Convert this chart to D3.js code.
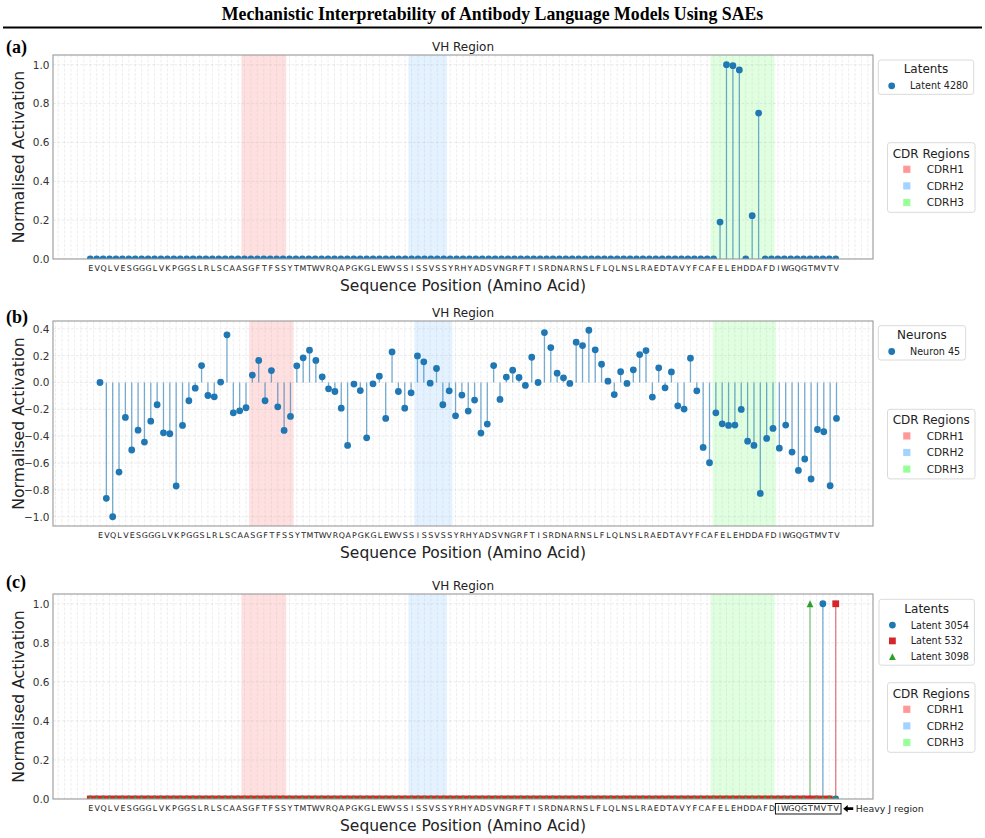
<!DOCTYPE html>
<html><head><meta charset="utf-8">
<script src="https://cdn.jsdelivr.net/npm/d3@7"></script>
<style>body{margin:0;background:#fff} svg{display:block}</style>
</head><body>
<svg id="chart" width="985" height="838"></svg>
<script>
// ---------------- DATA ----------------
const figureTitle = "Mechanistic Interpretability of Antibody Language Models Using SAEs";
const panelTitle = "VH Region";
const xLabel = "Sequence Position (Amino Acid)";
const yLabel = "Normalised Activation";
const sequence = "EVQLVESGGGLVKPGGSLRLSCAASGFTFSSYTMTWVRQAPGKGLEWVSSISSVSSYRHYADSVNGRFTISRDNARNSLFLQLNSLRAEDTAVYFCAFELEHDDAFDIWGQGTMVTV".split("");

const cdrNames = ["CDRH1", "CDRH2", "CDRH3"];
const cdrStart = [24, 50, 97];
const cdrEnd = [30, 55, 106];
const cdrColors = ["#ff0000", "#1e90ff", "#00ff00"];

const heavyJStart = 107;
const heavyJEnd = 116;
const heavyJLabel = "Heavy J region";

const yTicksPos = [0.0, 0.2, 0.4, 0.6, 0.8, 1.0];
const yTicksNeuron = [0.4, 0.2, 0.0, -0.2, -0.4, -0.6, -0.8, -1.0];

// Panel (a): Latent 4280
const latent4280 = [
  0,0,0,0,0,0,0,0,0,0,
  0,0,0,0,0,0,0,0,0,0,
  0,0,0,0,0,0,0,0,0,0,
  0,0,0,0,0,0,0,0,0,0,
  0,0,0,0,0,0,0,0,0,0,
  0,0,0,0,0,0,0,0,0,0,
  0,0,0,0,0,0,0,0,0,0,
  0,0,0,0,0,0,0,0,0,0,
  0,0,0,0,0,0,0,0,0,0,
  0,0,0,0,0,0,0,0,0.19,1.0,
  0.995,0.973,0,0.223,0.751,0,0,0,0,0,
  0,0,0,0,0,0,0
];

// Panel (b): Neuron 45
const neuron45 = [
  0.0,-0.863,-1.0,-0.667,-0.26,-0.503,-0.355,-0.444,-0.288,-0.166,
  -0.375,-0.382,-0.771,-0.32,-0.136,-0.042,0.126,-0.097,-0.107,0.003,
  0.355,-0.226,-0.211,-0.188,0.055,0.164,-0.136,0.089,-0.181,-0.357,
  -0.253,0.124,0.184,0.241,0.164,0.042,-0.047,-0.067,-0.191,-0.469,
  -0.012,-0.06,-0.412,-0.01,0.047,-0.268,0.228,-0.067,-0.191,-0.077,
  0.198,0.154,-0.005,0.104,-0.166,-0.062,-0.248,-0.094,-0.213,-0.131,
  -0.377,-0.31,0.126,-0.126,0.04,0.092,0.037,-0.022,0.188,0.0,
  0.372,0.26,0.069,0.035,-0.007,0.3,0.275,0.389,0.243,0.136,
  0.01,-0.09,0.08,-0.007,0.094,0.208,0.238,-0.109,0.109,-0.04,
  0.079,-0.174,-0.198,0.181,-0.062,-0.484,-0.598,-0.226,-0.308,-0.32,
  -0.317,-0.201,-0.437,-0.469,-0.826,-0.417,-0.342,-0.489,-0.317,-0.518,
  -0.655,-0.57,-0.719,-0.35,-0.367,-0.769,-0.268
];

// Panel (c): Latents 3054, 532, 3098
const latent3054 = [
  0,0,0,0,0,0,0,0,0,0, 0,0,0,0,0,0,0,0,0,0,
  0,0,0,0,0,0,0,0,0,0, 0,0,0,0,0,0,0,0,0,0,
  0,0,0,0,0,0,0,0,0,0, 0,0,0,0,0,0,0,0,0,0,
  0,0,0,0,0,0,0,0,0,0, 0,0,0,0,0,0,0,0,0,0,
  0,0,0,0,0,0,0,0,0,0, 0,0,0,0,0,0,0,0,0,0,
  0,0,0,0,0,0,0,0,0,0, 0,0,0,0,1.0,0,0
];
const latent532 = [
  0,0,0,0,0,0,0,0,0,0, 0,0,0,0,0,0,0,0,0,0,
  0,0,0,0,0,0,0,0,0,0, 0,0,0,0,0,0,0,0,0,0,
  0,0,0,0,0,0,0,0,0,0, 0,0,0,0,0,0,0,0,0,0,
  0,0,0,0,0,0,0,0,0,0, 0,0,0,0,0,0,0,0,0,0,
  0,0,0,0,0,0,0,0,0,0, 0,0,0,0,0,0,0,0,0,0,
  0,0,0,0,0,0,0,0,0,0, 0,0,0,0,0,0,1.0
];
const latent3098 = [
  0,0,0,0,0,0,0,0,0,0, 0,0,0,0,0,0,0,0,0,0,
  0,0,0,0,0,0,0,0,0,0, 0,0,0,0,0,0,0,0,0,0,
  0,0,0,0,0,0,0,0,0,0, 0,0,0,0,0,0,0,0,0,0,
  0,0,0,0,0,0,0,0,0,0, 0,0,0,0,0,0,0,0,0,0,
  0,0,0,0,0,0,0,0,0,0, 0,0,0,0,0,0,0,0,0,0,
  0,0,0,0,0,0,0,0,0,0, 0,0,1.0,0,0,0,0
];

// ---------------- DRAWING ----------------
const svg = d3.select("#chart");
const SANS = "'DejaVu Sans', sans-serif";
const SERIF = "'Liberation Serif', 'Times New Roman', serif";
const BLUE = "#1f77b4", RED = "#d62728", GREEN = "#2ca02c";
const axLeft = 53, axRight = 873;
const n = sequence.length;

svg.append("text").attr("x", 492.5).attr("y", 20).attr("text-anchor", "middle")
  .style("font-family", SERIF).style("font-weight", "bold").style("font-size", "17.8px")
  .attr("fill", "#000").text(figureTitle);
svg.append("line").attr("x1", 3).attr("x2", 982).attr("y1", 27.5).attr("y2", 27.5)
  .attr("stroke", "#000").attr("stroke-width", 2);

function markerPath(shape, r) {
  if (shape === "circle") return d3.symbol(d3.symbolCircle, Math.PI * r * r)();
  if (shape === "square") return `M${-r},${-r}H${r}V${r}H${-r}Z`;
  return `M0,${-r}L${r},${r}L${-r},${r}Z`;
}

function drawPanel(cfg) {
  const g = svg.append("g");
  const x = d3.scaleLinear().domain(cfg.xDomain).range([axLeft, axRight]);
  const y = d3.scaleLinear().domain(cfg.yDomain).range([cfg.bottom, cfg.top]);
  const clipId = "clip" + cfg.key;
  svg.append("clipPath").attr("id", clipId).append("rect")
    .attr("x", axLeft).attr("y", cfg.top).attr("width", axRight - axLeft).attr("height", cfg.bottom - cfg.top);
  const plot = g.append("g").attr("clip-path", `url(#${clipId})`);

  // CDR shading
  plot.selectAll("rect.cdr").data(cdrNames).join("rect").attr("class", "cdr")
    .attr("x", (d, i) => x(cdrStart[i] - 0.5))
    .attr("width", (d, i) => x(cdrEnd[i] + 0.5) - x(cdrStart[i] - 0.5))
    .attr("y", cfg.top).attr("height", cfg.bottom - cfg.top)
    .attr("fill", (d, i) => cdrColors[i]).attr("fill-opacity", 0.12);

  // grid
  const xt = d3.range(Math.ceil(cfg.xDomain[0]), Math.floor(cfg.xDomain[1]) + 1);
  plot.selectAll("line.vg").data(xt).join("line").attr("class", "vg")
    .attr("x1", d => x(d)).attr("x2", d => x(d)).attr("y1", cfg.top).attr("y2", cfg.bottom)
    .attr("stroke", "#b0b0b0").attr("stroke-opacity", 0.28).attr("stroke-width", 0.8)
    .attr("stroke-dasharray", "3,1.5");
  plot.selectAll("line.hg").data(cfg.yTicks).join("line").attr("class", "hg")
    .attr("x1", axLeft).attr("x2", axRight).attr("y1", d => y(d)).attr("y2", d => y(d))
    .attr("stroke", "#b0b0b0").attr("stroke-opacity", 0.3).attr("stroke-width", 0.8)
    .attr("stroke-dasharray", "3,1.5");

  // series
  cfg.series.forEach(s => {
    const sg = plot.append("g");
    sg.selectAll("line").data(s.values.map((v, i) => ({ v, i })).filter(d => d.v !== 0)).join("line")
      .attr("x1", d => x(d.i)).attr("x2", d => x(d.i)).attr("y1", y(0)).attr("y2", d => y(d.v))
      .attr("stroke", s.color).attr("stroke-opacity", 0.6).attr("stroke-width", 1.3);
  });
  cfg.series.forEach(s => {
    const sg = plot.append("g");
    sg.selectAll("path").data(s.values.map((v, i) => ({ v, i }))).join("path")
      .attr("transform", d => `translate(${x(d.i)},${y(d.v)})`)
      .attr("d", markerPath(s.shape, 3.4))
      .attr("fill", s.color);
  });

  // frame
  g.append("rect").attr("x", axLeft).attr("y", cfg.top).attr("width", axRight - axLeft)
    .attr("height", cfg.bottom - cfg.top).attr("fill", "none").attr("stroke", "#999").attr("stroke-width", 1.1);

  // y axis
  const ya = g.append("g").attr("transform", `translate(${axLeft},0)`)
    .call(d3.axisLeft(y).tickValues(cfg.yTicks).tickFormat(d3.format(".1f")).tickSize(0).tickPadding(3.5));
  ya.select(".domain").remove();
  ya.selectAll("text").style("font-family", SANS).style("font-size", "10.5px").attr("fill", "#333");

  // x axis (sequence letters)
  const xa = g.append("g").attr("transform", `translate(0,${cfg.bottom})`)
    .call(d3.axisBottom(x).tickValues(d3.range(n)).tickFormat(i => sequence[i]).tickSize(0).tickPadding(6));
  xa.select(".domain").remove();
  xa.selectAll("text").style("font-family", SANS).style("font-size", "7.9px").attr("fill", "#222");

  // titles and labels
  g.append("text").attr("x", (axLeft + axRight) / 2).attr("y", cfg.top - 4.5).attr("text-anchor", "middle")
    .style("font-family", SANS).style("font-size", "12px").attr("fill", "#222").text(panelTitle);
  g.append("text").attr("x", (axLeft + axRight) / 2).attr("y", cfg.bottom + 31.5).attr("text-anchor", "middle")
    .style("font-family", SANS).style("font-size", "15.5px").attr("fill", "#222").text(xLabel);
  g.append("text").attr("transform", `translate(23.5,${(cfg.top + cfg.bottom) / 2}) rotate(-90)`)
    .attr("text-anchor", "middle").style("font-family", SANS).style("font-size", "15.7px")
    .attr("fill", "#222").text(yLabel);
  g.append("text").attr("x", 6).attr("y", cfg.labelY)
    .style("font-family", SERIF).style("font-weight", "bold").style("font-size", "18px")
    .attr("fill", "#000").text(cfg.label);

  // series legend
  const lg = g.append("g");
  const lb = cfg.legendBox;
  const lbox = lg.append("rect").attr("x", lb.x).attr("y", lb.y).attr("rx", 2.5)
    .attr("height", 18.5 + cfg.series.length * 15.8)
    .attr("fill", "#fff").attr("fill-opacity", 0.85).attr("stroke", "#d6d6d6").attr("stroke-width", 0.9);
  let maxW = 0;
  cfg.series.forEach((s, k) => {
    const cy = lb.y + 25.8 + k * 15.8;
    lg.append("path").attr("transform", `translate(${lb.x + 13.4},${cy})`)
      .attr("d", markerPath(s.shape, 3.4)).attr("fill", s.color);
    const t = lg.append("text").attr("x", lb.x + 31.7).attr("y", cy + 3.4)
      .style("font-family", SANS).style("font-size", "9.6px").attr("fill", "#222").text(s.name);
    maxW = Math.max(maxW, t.node().getComputedTextLength());
  });
  const lw = 31.7 + maxW + 5.5;
  lbox.attr("width", lw);
  lg.append("text").attr("x", lb.x + lw / 2).attr("y", lb.y + 13.4).attr("text-anchor", "middle")
    .style("font-family", SANS).style("font-size", "12px").attr("fill", "#222").text(cfg.legendTitle);

  // CDR legend
  const cg = g.append("g");
  const cb = cfg.cdrBox;
  cg.append("rect").attr("x", 887.5).attr("y", cb).attr("rx", 2.5).attr("width", 87.5).attr("height", 69.6)
    .attr("fill", "#fff").attr("fill-opacity", 0.85).attr("stroke", "#d6d6d6").attr("stroke-width", 0.9);
  cg.append("text").attr("x", 931.2).attr("y", cb + 15).attr("text-anchor", "middle")
    .style("font-family", SANS).style("font-size", "12px").attr("fill", "#222").text("CDR Regions");
  cdrNames.forEach((name, k) => {
    const cy = cb + 26.6 + k * 16.6;
    cg.append("rect").attr("x", 903.2).attr("y", cy - 3.6).attr("width", 7.2).attr("height", 7.2)
      .attr("fill", cdrColors[k]).attr("fill-opacity", 0.4);
    cg.append("text").attr("x", 926.7).attr("y", cy + 3.8)
      .style("font-family", SANS).style("font-size", "10.5px").attr("fill", "#222").text(name);
  });

  // Heavy J region annotation
  if (cfg.heavyJ) {
    const by = cfg.bottom + 4.5;
    g.append("rect").attr("x", x(heavyJStart) - 2.5).attr("y", by)
      .attr("width", x(heavyJEnd) + 5.3 - (x(heavyJStart) - 2.5)).attr("height", 10.5)
      .attr("fill", "none").attr("stroke", "#000").attr("stroke-width", 0.9);
    const ay = by + 5.2;
    const ax0 = x(heavyJEnd) + 7.5;
    g.append("path").attr("d", `M${ax0},${ay}L${ax0 + 4.5},${ay - 3.6}L${ax0 + 4.5},${ay - 1.4}L${ax0 + 10},${ay - 1.4}L${ax0 + 10},${ay + 1.4}L${ax0 + 4.5},${ay + 1.4}L${ax0 + 4.5},${ay + 3.6}Z`)
      .attr("fill", "#000");
    g.append("text").attr("x", ax0 + 12.5).attr("y", ay + 3.4)
      .style("font-family", SANS).style("font-size", "9.4px").attr("fill", "#222").text(heavyJLabel);
  }
}

const mA = 0.05 * (n - 1);
drawPanel({
  key: "a", top: 55, bottom: 259, label: "(a)", labelY: 53,
  xDomain: [-mA, n - 1 + mA], yDomain: [0, 1.05], yTicks: yTicksPos,
  series: [{ name: "Latent 4280", values: latent4280, color: BLUE, shape: "circle" }],
  legendTitle: "Latents", legendBox: { x: 878.3, y: 60 }, cdrBox: 142.7
});
drawPanel({
  key: "b", top: 321, bottom: 526, label: "(b)", labelY: 323,
  xDomain: [-7.4, 121.75], yDomain: [-1.069, 0.458], yTicks: yTicksNeuron,
  series: [{ name: "Neuron 45", values: neuron45, color: BLUE, shape: "circle" }],
  legendTitle: "Neurons", legendBox: { x: 878.3, y: 325.7 }, cdrBox: 409.3
});
drawPanel({
  key: "c", top: 594, bottom: 799, label: "(c)", labelY: 588,
  xDomain: [-mA, n - 1 + mA], yDomain: [0, 1.05], yTicks: yTicksPos,
  series: [
    { name: "Latent 3054", values: latent3054, color: BLUE, shape: "circle" },
    { name: "Latent 532", values: latent532, color: RED, shape: "square" },
    { name: "Latent 3098", values: latent3098, color: GREEN, shape: "triangle" }
  ],
  legendTitle: "Latents", legendBox: { x: 879, y: 599.3 }, cdrBox: 682.7, heavyJ: true
});
</script>
</body></html>
